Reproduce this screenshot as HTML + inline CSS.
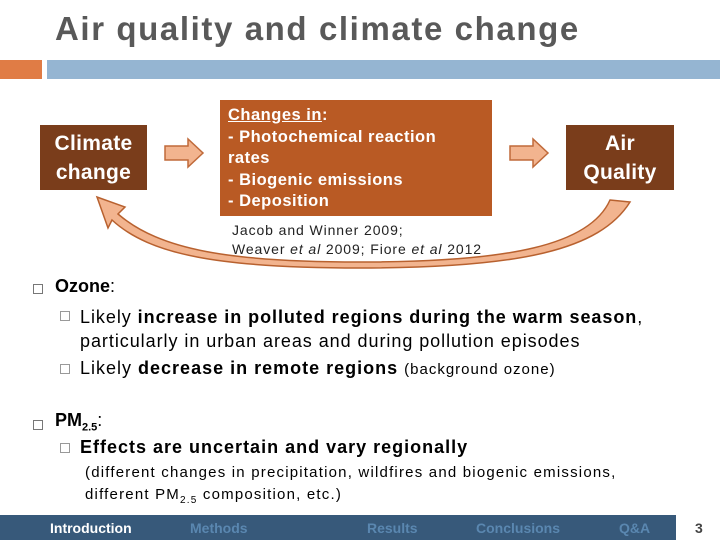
<!DOCTYPE html>
<html><head><meta charset="utf-8"><style>
body{margin:0;width:720px;height:540px;overflow:hidden;background:#fff;font-family:"Liberation Sans",sans-serif;position:relative}
.a{position:absolute}
.box{position:absolute;color:#fff;text-align:center;font-size:21px;font-weight:bold;line-height:29px;display:flex;align-items:center;justify-content:center;letter-spacing:0.3px}
.t{position:absolute;white-space:nowrap;color:#000}
.sq{position:absolute;width:8px;height:8px;border:1px solid #777}
.sq2{position:absolute;width:8px;height:8px;border:1px solid #999}
.nav{position:absolute;top:520px;font-size:14px;font-weight:bold;color:#5a87b0}
</style></head><body>
<div class="t" style="left:55px;top:10px;font-size:33px;font-weight:bold;letter-spacing:1.6px;color:#595959">Air quality and climate change</div>
<div class="a" style="left:0;top:60px;width:42px;height:19px;background:#e07c45"></div>
<div class="a" style="left:47px;top:60px;width:673px;height:19px;background:#95b5d2"></div>
<svg class="a" style="left:0;top:0" width="720" height="540">
<path d="M165,146 H188 V139 L203,153 L188,167 V160 H165 Z" fill="#f2b48f" stroke="#c06a3a" stroke-width="1.5"/>
<path d="M510,146 H533 V139 L548,153 L533,167 V160 H510 Z" fill="#f2b48f" stroke="#c06a3a" stroke-width="1.5"/>
<path d="M610,200 L630,202 C600,250 520,268 360,268 C220,268 150,255 112,220 L108,228 L97,197 L125,207 L118,214 C160,250 230,262 360,262 C510,262 590,245 610,200 Z" fill="#f2b48f" stroke="#b8612f" stroke-width="1.5"/>
</svg>
<div class="box" style="left:40px;top:125px;width:107px;height:65px;background:#7a3d1b">Climate<br>change</div>
<div class="box" style="left:566px;top:125px;width:108px;height:65px;background:#7a3d1b">Air<br>Quality</div>
<div class="a" style="left:220px;top:100px;width:272px;height:116px;background:#b95a24;color:#fff;font-weight:bold;font-size:16.5px;letter-spacing:0.5px;line-height:21.5px;padding:5px 0 0 8px;box-sizing:border-box;overflow:hidden;white-space:nowrap"><u>Changes in</u>:<br>- Photochemical reaction<br>rates<br>- Biogenic emissions<br>- Deposition<br>- Changes in circulation</div>
<div class="t" style="left:232px;top:221px;font-size:14px;letter-spacing:0.9px;line-height:19px;color:#222">Jacob and Winner 2009;<br>Weaver <i>et al</i> 2009; Fiore <i>et al</i> 2012</div>
<div class="sq" style="left:33px;top:284px"></div>
<div class="t" style="left:55px;top:276px;font-size:18px"><b>Ozone</b>:</div>
<div class="sq2" style="left:60px;top:311px"></div>
<div class="t" style="left:80px;top:305px;font-size:18px;letter-spacing:0.95px;line-height:24px">Likely <b>increase in polluted regions during the warm season</b>,<br>particularly in urban areas and during pollution episodes</div>
<div class="sq2" style="left:60px;top:364px"></div>
<div class="t" style="left:80px;top:358px;font-size:18px;letter-spacing:1px">Likely <b>decrease in remote regions</b> <span style="font-size:15px">(background ozone)</span></div>
<div class="sq" style="left:33px;top:420px"></div>
<div class="t" style="left:55px;top:410px;font-size:18px"><b>PM<sub style="font-size:11px">2.5</sub></b>:</div>
<div class="sq2" style="left:60px;top:443px"></div>
<div class="t" style="left:80px;top:437px;font-size:18px;letter-spacing:1px"><b>Effects are uncertain and vary regionally</b></div>
<div class="t" style="left:85px;top:462px;font-size:15px;letter-spacing:1.2px;line-height:22px">(different changes  in precipitation, wildfires and biogenic emissions,<br> different PM<sub style="font-size:10px">2.5</sub> composition, etc.)</div>
<div class="a" style="left:0;top:515px;width:676px;height:25px;background:#37597a"></div>
<div class="nav" style="left:50px;color:#fff">Introduction</div>
<div class="nav" style="left:190px">Methods</div>
<div class="nav" style="left:367px">Results</div>
<div class="nav" style="left:476px">Conclusions</div>
<div class="nav" style="left:619px">Q&amp;A</div>
<div class="t" style="left:695px;top:520px;font-size:14px;font-weight:bold;color:#444">3</div>
</body></html>
